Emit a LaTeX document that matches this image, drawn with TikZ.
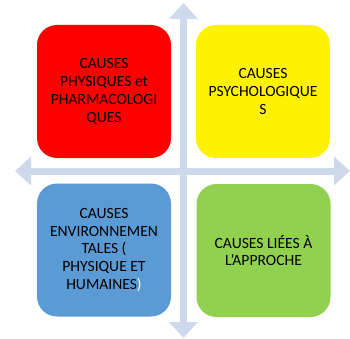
\documentclass[tikz,border=0pt]{standalone}
\usepackage{fontspec}
\setmainfont{Carlito}
\usetikzlibrary{arrows.meta}
\definecolor{axiscol}{HTML}{CEDAEC}
\definecolor{bluebox}{HTML}{5B9BD5}
\definecolor{greenbox}{HTML}{92D050}
\tikzset{
  causebox/.style={rounded corners=20pt, minimum width=134pt, minimum height=133pt,
    align=center, font=\fontsize{15.6}{17.7}\selectfont, inner sep=0pt},
  axis/.style={line width=7pt, color=axiscol,
    {Triangle[width=28pt,length=16pt]}-{Triangle[width=28pt,length=16pt]}}
}
\begin{document}
\begin{tikzpicture}[x=1pt, y=-1pt]
        \useasboundingbox (0,0) rectangle (350,339);
        \coordinate (top) at (183.5,3);
        \coordinate (bottom) at (183.5,338);
        \coordinate (left) at (15,171);
        \coordinate (right) at (350,171);
        \draw[axis] (top) -- (bottom);
        \draw[axis] (left) -- (right);

        \node[causebox, fill=red] (physique) at (104,91.5) {CAUSES\\PHYSIQUES et\\PHARMACOLOGI\\QUES};
        \node[causebox, fill=yellow] (psycho) at (263,91.5) {CAUSES\\PSYCHOLOGIQUE\\S};
        \node[causebox, fill=bluebox] (environ) at (104,250) {CAUSES\\ENVIRONNEMEN\\TALES (\\PHYSIQUE ET\\HUMAINES\textcolor{white}{)}};
        \node[causebox, fill=greenbox] (approche) at (263.5,250.5) {CAUSES LIÉES À\\L’APPROCHE};
      \end{tikzpicture}
\end{document}
